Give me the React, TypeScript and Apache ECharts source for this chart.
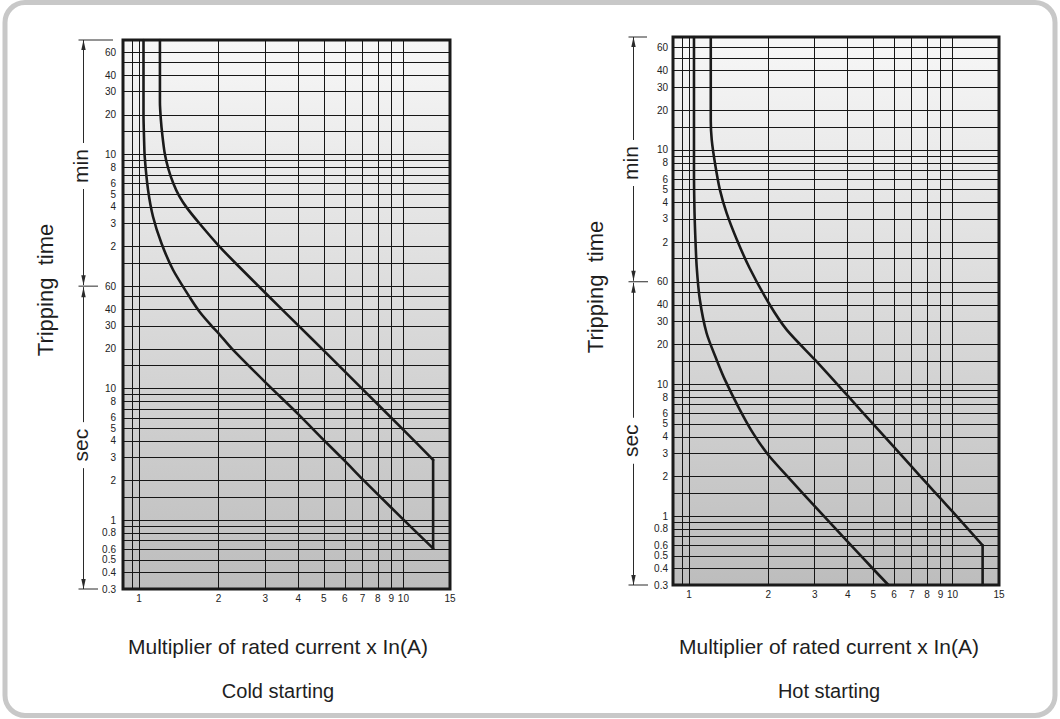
import React, { useEffect, useRef } from "react";
import * as echarts from "echarts";

type Pt = [number, number];

// Multiplier of rated current (x In) vs tripping time (seconds)
const coldUpper: Pt[] = [
  [1.2, 4450], [1.2, 1500], [1.21, 1100], [1.225, 850], [1.25, 620], [1.29, 470],
  [1.35, 360], [1.42, 290], [1.52, 235], [1.7, 178], [2.0, 122], [2.34, 88],
  [3.0, 53.5], [4.0, 30.2], [5.0, 19.4], [7.0, 9.9], [10, 4.86], [12.95, 2.87], [12.95, 0.61],
];
const coldLower: Pt[] = [
  [1.04, 4450], [1.04, 1200], [1.045, 800], [1.051, 578], [1.082, 323], [1.13, 202],
  [1.216, 127], [1.346, 79.6], [1.56, 49], [1.7, 38], [1.88, 30], [2.0, 26.3],
  [2.24, 20.2], [3.0, 11.2], [4.0, 6.4], [5.0, 4.06], [6.0, 2.82], [7.0, 2.05],
  [8.0, 1.57], [10, 1.01], [12.95, 0.61],
];
const hotUpper: Pt[] = [
  [1.21, 4320], [1.21, 1000], [1.22, 718], [1.255, 478], [1.31, 300], [1.39, 199],
  [1.52, 125], [1.7, 76], [2.02, 40.5], [2.35, 25.9], [3.01, 15.3], [3.53, 10.8],
  [4.03, 8.05], [5.01, 4.96], [6.06, 3.26], [7.01, 2.36], [8.0, 1.76], [9.0, 1.36],
  [10, 1.08], [13, 0.6], [13, 0.3],
];
const hotLower: Pt[] = [
  [1.045, 4320], [1.045, 400], [1.05, 200], [1.056, 140], [1.07, 78], [1.1, 43.8],
  [1.167, 24.4], [1.274, 15.3], [1.37, 10.8], [1.56, 6.4], [1.75, 4.26], [2.0, 2.91],
  [2.42, 1.9], [3.01, 1.18], [4.03, 0.63], [5.01, 0.395], [5.71, 0.3],
];

// Time axis (seconds): grid lines and tick labels (minutes above 60 s)
const yGridValues = [
  0.4, 0.5, 0.6, 0.7, 0.8, 0.9, 1, 1.5, 2, 3, 4, 5, 6, 7, 8, 9, 10, 15, 20, 30, 40, 50, 60,
  90, 120, 180, 240, 300, 360, 420, 480, 540, 600, 900, 1200, 1800, 2400, 3000, 3600,
];
const yLabelValues = [
  0.3, 0.4, 0.5, 0.6, 0.8, 1, 2, 3, 4, 5, 6, 8, 10, 20, 30, 40, 60,
  120, 180, 240, 300, 360, 480, 600, 1200, 1800, 2400, 3600,
];
const yLabelTexts = [
  "0.3", "0.4", "0.5", "0.6", "0.8", "1", "2", "3", "4", "5", "6", "8", "10", "20", "30", "40", "60",
  "2", "3", "4", "5", "6", "8", "10", "20", "30", "40", "60",
];
// Current multiplier axis
const xGridValues = [0.935, 1, 2, 3, 4, 5, 6, 7, 8, 9, 10];
const xLabelValues = [1, 2, 3, 4, 5, 6, 7, 8, 9, 10, 15];

const xMin = 0.87;
const xMax = 15;
const yMin = 0.3;
const yMaxCold = 4450;
const yMaxHot = 4320;

const FONT = '"Liberation Sans", Arial, Helvetica, sans-serif';
const GRID_COLOR = "#161616";
const HIDDEN = "rgba(0,0,0,0)";

const grids = [
  { left: 123, top: 40, width: 327, height: 549 },
  { left: 673, top: 37, width: 326, height: 548 },
];

function markLines(labelDist: number) {
  const ys = Array.from(new Set([...yGridValues, ...yLabelValues])).sort((a, b) => a - b);
  const xs = Array.from(new Set([...xGridValues, ...xLabelValues])).sort((a, b) => a - b);
  const data: any[] = [];
  ys.forEach((v) => {
    const li = yLabelValues.indexOf(v);
    data.push({
      yAxis: v,
      lineStyle: { color: yGridValues.includes(v) ? GRID_COLOR : HIDDEN },
      label:
        li >= 0
          ? { show: true, position: "start", formatter: yLabelTexts[li], distance: labelDist, color: "#222" }
          : { show: false },
    });
  });
  xs.forEach((v) => {
    const li = xLabelValues.indexOf(v);
    data.push({
      xAxis: v,
      lineStyle: { color: xGridValues.includes(v) ? GRID_COLOR : HIDDEN },
      label:
        li >= 0
          ? { show: true, position: "start", formatter: String(v), distance: 4, color: "#222" }
          : { show: false },
    });
  });
  return {
    silent: true,
    symbol: ["none", "none"],
    z: 1,
    animation: false,
    lineStyle: { color: GRID_COLOR, width: 1, type: "solid", opacity: 1 },
    label: { show: false, color: "#222", fontSize: 10, fontFamily: FONT },
    emphasis: { disabled: true },
    data,
  };
}

function lineSeries(data: Pt[], gi: number, smooth: number | boolean, extra: any = {}) {
  return {
    type: "line",
    xAxisIndex: gi,
    yAxisIndex: gi,
    data,
    symbol: "none",
    showSymbol: false,
    silent: true,
    smooth,
    z: 4,
    lineStyle: { color: "#1a1a1a", width: 2.6, cap: "round", join: "round" },
    ...extra,
  };
}

// A curve is drawn smooth; a final vertical drop (same multiplier) keeps its sharp corner.
function curve(data: Pt[], gi: number, withMarks: boolean, labelDist: number) {
  const n = data.length;
  const hasDrop = n > 2 && data[n - 1][0] === data[n - 2][0];
  const body = hasDrop ? data.slice(0, n - 1) : data;
  const out: any[] = [
    lineSeries(body, gi, 0.25, withMarks ? { markLine: markLines(labelDist) } : {}),
  ];
  if (hasDrop) out.push(lineSeries(data.slice(n - 2), gi, false));
  return out;
}

export default function App() {
  const ref = useRef<HTMLDivElement>(null);
  useEffect(() => {
    document.body.style.margin = "0";
    const chart = echarts.init(ref.current!, null, { renderer: "svg" });
    const bg = () =>
      new echarts.graphic.LinearGradient(0, 0, 0, 1, [
        { offset: 0, color: "#f7f7f7" },
        { offset: 1, color: "#bdbdbd" },
      ]);
    const axisCommon = {
      type: "log",
      logBase: 10,
      axisLine: { show: false },
      axisTick: { show: false },
      axisLabel: { show: false },
      splitLine: { show: false },
    };
    chart.setOption({
      animation: false,
      backgroundColor: "#ffffff",
      grid: grids.map((g) => ({
        ...g,
        show: true,
        backgroundColor: bg(),
        borderColor: "#1a1a1a",
        borderWidth: 3,
      })),
      xAxis: [0, 1].map((gi) => ({ ...axisCommon, gridIndex: gi, min: xMin, max: xMax })),
      yAxis: [0, 1].map((gi) => ({
        ...axisCommon,
        gridIndex: gi,
        min: yMin,
        max: gi === 0 ? yMaxCold : yMaxHot,
      })),
      series: [
        ...curve(coldUpper, 0, true, 7),
        ...curve(coldLower, 0, false, 7),
        ...curve(hotUpper, 1, true, 5),
        ...curve(hotLower, 1, false, 5),
      ],
    });

    const elements: any[] = [
      {
        type: "rect",
        z: -10,
        shape: { x: 5, y: 2.5, width: 1050, height: 713, r: 20 },
        style: { fill: "none", stroke: "#c8c8c8", lineWidth: 5 },
      },
    ];
    const stroke = { stroke: "#2a2a2a", lineWidth: 1 };
    const arrow = (x: number, tip: number, dir: number) => ({
      type: "polygon",
      shape: { points: [[x - 2.2, tip + dir * 10], [x, tip], [x + 2.2, tip + dir * 10]] },
      style: { fill: "#2a2a2a" },
    });
    const vtext = (text: string, x: number, y: number, size: number) => ({
      type: "text",
      x,
      y,
      rotation: Math.PI / 2,
      style: { text, fontSize: size, fontFamily: FONT, fill: "#1e1e1e", align: "center", verticalAlign: "middle" },
    });
    const titles = [
      { x: 278, label: "Cold starting" },
      { x: 829, label: "Hot starting" },
    ];
    grids.forEach((g, gi) => {
      const T = g.top;
      const B = g.top + g.height;
      const y60 = (chart.convertToPixel({ gridIndex: gi } as any, [1, 60]) as number[])[1];
      const lx = g.left - 39.5;
      const minC = T + 126;
      const secC = y60 + 159;
      const line = (x1: number, y1: number, x2: number, y2: number) => ({
        type: "line",
        shape: { x1, y1, x2, y2 },
        style: stroke,
      });
      elements.push(
        line(lx - 5, T, lx + (gi === 0 ? 29.5 : 13.5), T),
        line(lx, T, lx, minC - 23),
        arrow(lx, T, 1),
        line(lx, minC + 23, lx, y60 - 1),
        arrow(lx, y60 - 1, -1),
        line(lx - 5, y60, lx + 14.5, y60),
        line(lx, y60 + 1, lx, secC - 23),
        arrow(lx, y60 + 1, 1),
        line(lx, secC + 23, lx, B),
        arrow(lx, B, -1),
        line(lx - 5, B, lx + 14.5, B),
        vtext("min", lx - 3, minC, 21),
        vtext("sec", lx - 3, secC, 21),
        vtext("Tripping  time", g.left - 78, T + 250, 22),
        {
          type: "text",
          x: titles[gi].x,
          y: 646,
          style: {
            text: "Multiplier of rated current x In(A)",
            fontSize: 21,
            fontFamily: FONT,
            fill: "#1e1e1e",
            align: "center",
            verticalAlign: "middle",
          },
        },
        {
          type: "text",
          x: titles[gi].x,
          y: 691,
          style: {
            text: titles[gi].label,
            fontSize: 20,
            fontFamily: FONT,
            fill: "#1e1e1e",
            align: "center",
            verticalAlign: "middle",
          },
        }
      );
    });
    chart.setOption({ graphic: { elements } });
    return () => chart.dispose();
  }, []);
  return <div ref={ref} style={{ width: 1060, height: 719, position: "absolute", left: 0, top: 0 }} />;
}
